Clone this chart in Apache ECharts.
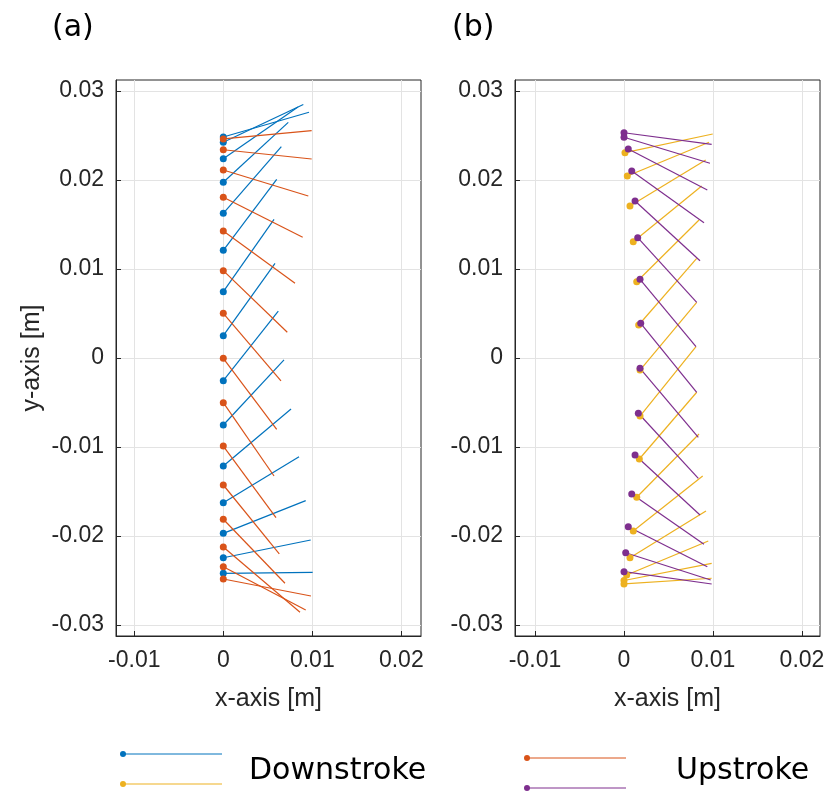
<!DOCTYPE html>
<html>
<head>
<meta charset="utf-8">
<script src="https://cdn.jsdelivr.net/npm/echarts@6/dist/echarts.min.js"></script>
<style>
  html, body { margin: 0; padding: 0; background: #fff; }
  #main { width: 831px; height: 792px; }
</style>
</head>
<body>
<div id="main"></div>
<script>
// (a) downstroke: leading edge (dot) and trailing edge, metres
const aDownX = [0, 0, 0, 0, 0, 0, 0, 0, 0, 0, 0, 0, 0, 0, 0]
const aDownY = [0.02483, 0.02424, 0.02239, 0.01974, 0.01626, 0.01210, 0.00745, 0.00251, -0.00255, -0.00753, -0.01213, -0.01626, -0.01970, -0.02244, -0.02419]
const aDownEndX = [0.00963, 0.00899, 0.00839, 0.00730, 0.00652, 0.00600, 0.00570, 0.00581, 0.00618, 0.00682, 0.00761, 0.00851, 0.00926, 0.00982, 0.01004]
const aDownEndY = [0.02761, 0.02848, 0.02820, 0.02648, 0.02374, 0.02008, 0.01558, 0.01064, 0.00528, -0.00022, -0.00573, -0.01109, -0.01603, -0.02045, -0.02408]

// (a) upstroke
const aUpX = [0, 0, 0, 0, 0, 0, 0, 0, 0, 0, 0, 0, 0, 0, 0]
const aUpY = [0.02461, 0.02340, 0.02112, 0.01806, 0.01427, 0.00981, 0.00502, -0.00003, -0.00502, -0.00989, -0.01427, -0.01812, -0.02124, -0.02345, -0.02483]
const aUpEndX = [0.00993, 0.00993, 0.00955, 0.00892, 0.00806, 0.00719, 0.00648, 0.00600, 0.00570, 0.00592, 0.00629, 0.00693, 0.00862, 0.00926, 0.00985]
const aUpEndY = [0.02554, 0.02236, 0.01820, 0.01356, 0.00839, 0.00289, -0.00258, -0.00801, -0.01326, -0.01794, -0.02202, -0.02531, -0.02857, -0.02831, -0.02674]

// (b) downstroke
const bDownX = [0.00011, 0.00037, 0.00067, 0.00104, 0.00143, 0.00165, 0.00180, 0.00180, 0.00172, 0.00143, 0.00104, 0.00067, 0.00030, 0, 0]
const bDownY = [0.02307, 0.02045, 0.01708, 0.01307, 0.00857, 0.00371, -0.00135, -0.00652, -0.01135, -0.01565, -0.01944, -0.02244, -0.02438, -0.02500, -0.02539]
const bDownEndX = [0.00997, 0.00955, 0.00918, 0.00873, 0.00843, 0.00817, 0.00817, 0.00809, 0.00817, 0.00843, 0.00884, 0.00921, 0.00947, 0.00985, 0.00985]
const bDownEndY = [0.02517, 0.02424, 0.02225, 0.01933, 0.01551, 0.01120, 0.00626, 0.00127, -0.00385, -0.00854, -0.01326, -0.01719, -0.02056, -0.02307, -0.02475]

// (b) upstroke
const bUpX = [0, 0, 0.00048, 0.00087, 0.00124, 0.00154, 0.00180, 0.00188, 0.00180, 0.00161, 0.00124, 0.00087, 0.00048, 0.00019, 0]
const bUpY = [0.02531, 0.02480, 0.02348, 0.02101, 0.01764, 0.01352, 0.00884, 0.00390, -0.00116, -0.00621, -0.01090, -0.01528, -0.01896, -0.02188, -0.02401]
const bUpEndX = [0.00985, 0.00966, 0.00936, 0.00899, 0.00854, 0.00817, 0.00809, 0.00817, 0.00835, 0.00835, 0.00854, 0.00899, 0.00936, 0.00974, 0.00985]
const bUpEndY = [0.02401, 0.02188, 0.01888, 0.01520, 0.01093, 0.00626, 0.00127, -0.00385, -0.00891, -0.01352, -0.01764, -0.02093, -0.02345, -0.02494, -0.02539]

const xTicks = [-0.01, 0, 0.01, 0.02]
const yTicks = [-0.03, -0.02, -0.01, 0, 0.01, 0.02, 0.03]

const BLUE = '#0072BD'
const ORANGE = '#D95319'
const YELLOW = '#EDB120'
const PURPLE = '#7E2F8E'
const AXIS_COLOR = '#262626'
const TICK_FONT = 'Liberation Sans'

const fmt = v => String(Math.round(v * 100) / 100)

const segs = (x0, y0, x1, y1) => x0.map((x, i) => ({ coords: [[x, y0[i]], [x1[i], y1[i]]] }))
const dots = (x0, y0) => x0.map((x, i) => [x, y0[i]])

const chart = echarts.init(document.getElementById('main'), null, { renderer: 'canvas' })

const makeX = (gi, min, max) => ({
  gridIndex: gi, type: 'value', min: min, max: max,
  name: 'x-axis [m]', nameLocation: 'middle', nameGap: 51,
  nameTextStyle: { fontSize: 25, color: AXIS_COLOR, fontFamily: TICK_FONT },
  axisLine: { show: true, onZero: false, lineStyle: { color: AXIS_COLOR, width: 1 } },
  axisTick: { show: true, inside: true, length: 5, customValues: xTicks, lineStyle: { color: AXIS_COLOR } },
  axisLabel: { customValues: xTicks, formatter: fmt, fontSize: 23, color: AXIS_COLOR, fontFamily: TICK_FONT, margin: 13 },
  splitLine: { show: true, lineStyle: { color: '#e3e3e3', width: 1 } }
})

const makeY = (gi, showName) => ({
  gridIndex: gi, type: 'value', min: -0.031236, max: 0.031236,
  name: showName ? 'y-axis [m]' : '', nameLocation: 'middle', nameGap: 71,
  nameTextStyle: { fontSize: 25, color: AXIS_COLOR, fontFamily: TICK_FONT },
  axisLine: { show: true, onZero: false, lineStyle: { color: AXIS_COLOR, width: 1 } },
  axisTick: { show: true, inside: true, length: 5, customValues: yTicks, lineStyle: { color: AXIS_COLOR } },
  axisLabel: { customValues: yTicks, formatter: fmt, fontSize: 23, color: AXIS_COLOR, fontFamily: TICK_FONT, margin: 12 },
  splitLine: { show: true, lineStyle: { color: '#e3e3e3', width: 1 } }
})

const lineSeries = (gi, data, color) => ({
  type: 'lines', coordinateSystem: 'cartesian2d', xAxisIndex: gi, yAxisIndex: gi,
  data: data, silent: true, animation: false,
  lineStyle: { color: color, width: 1.2, opacity: 1 }
})
const dotSeries = (gi, data, color) => ({
  type: 'scatter', xAxisIndex: gi, yAxisIndex: gi, data: data,
  symbolSize: 7, silent: true, animation: false,
  itemStyle: { color: color, opacity: 1 }
})

// 图例：两条短线一组，手画
const legendItem = (x, y, color) => [
  { type: 'line', shape: { x1: x, y1: y, x2: x + 99, y2: y }, style: { stroke: color, lineWidth: 1 } },
  { type: 'circle', shape: { cx: x, cy: y, r: 3 }, style: { fill: color } }
]
const label = (x, y, text, size) => ({
  type: 'text', x: x, y: y,
  style: { text: text, font: size + 'px "DejaVu Sans"', fill: '#000', align: 'left', verticalAlign: 'middle', textAlign: 'left', textVerticalAlign: 'middle' }
})

chart.setOption({
  animation: false,
  grid: [
    { left: 116, top: 80, width: 305, height: 556, show: true, borderColor: AXIS_COLOR, borderWidth: 1 },
    { left: 515, top: 80, width: 305, height: 556, show: true, borderColor: AXIS_COLOR, borderWidth: 1 }
  ],
  xAxis: [makeX(0, -0.012056, 0.022213), makeX(1, -0.012247, 0.022022)],
  yAxis: [makeY(0, true), makeY(1, false)],
  series: [
    lineSeries(0, segs(aDownX, aDownY, aDownEndX, aDownEndY), BLUE),
    lineSeries(0, segs(aUpX, aUpY, aUpEndX, aUpEndY), ORANGE),
    dotSeries(0, dots(aDownX, aDownY), BLUE),
    dotSeries(0, dots(aUpX, aUpY), ORANGE),
    lineSeries(1, segs(bDownX, bDownY, bDownEndX, bDownEndY), YELLOW),
    lineSeries(1, segs(bUpX, bUpY, bUpEndX, bUpEndY), PURPLE),
    dotSeries(1, dots(bDownX, bDownY), YELLOW),
    dotSeries(1, dots(bUpX, bUpY), PURPLE)
  ],
  graphic: [
    label(52, 28, '(a)', 30),
    label(452, 28, '(b)', 30),
    ...legendItem(123, 754, BLUE),
    ...legendItem(123, 784, YELLOW),
    ...legendItem(527, 758, ORANGE),
    ...legendItem(527, 788, PURPLE),
    label(249, 771, 'Downstroke', 30),
    label(676, 771, 'Upstroke', 30)
  ]
})

window.addEventListener('resize', () => chart.resize())
</script>
</body>
</html>
